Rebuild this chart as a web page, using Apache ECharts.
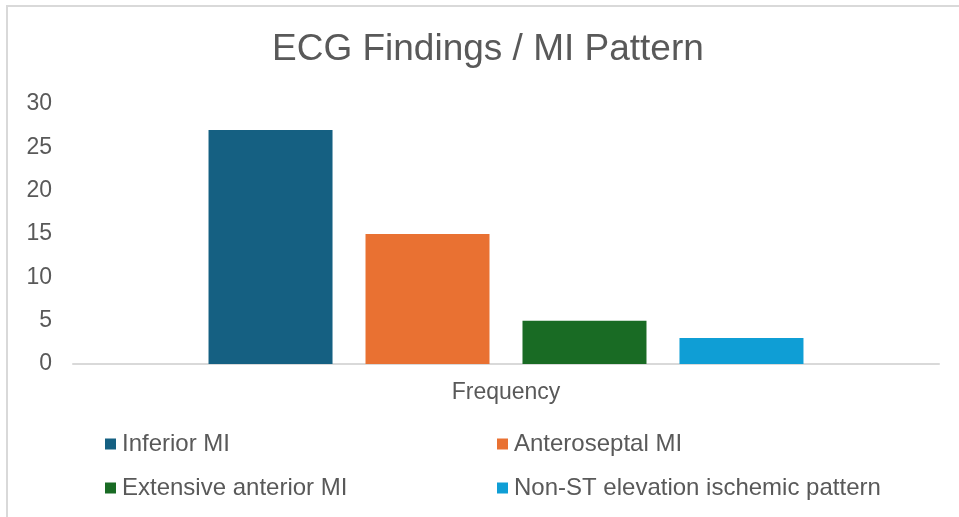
<!DOCTYPE html>
<html>
<head>
<meta charset="utf-8">
<title>ECG Findings / MI Pattern</title>
<script src="https://cdn.jsdelivr.net/npm/echarts@6/dist/echarts.min.js"></script>
<style>
  html, body { margin: 0; padding: 0; background: #fff; }
  #chart { width: 959px; height: 517px; }
</style>
</head>
<body>
<div id="chart"></div>
<script>
const categories = ['Frequency']
const seriesNames = ['Inferior MI', 'Anteroseptal MI', 'Extensive anterior MI', 'Non-ST elevation ischemic pattern']
const seriesValues = [27, 15, 5, 3]
const seriesColors = ['#156082', '#E97132', '#196B24', '#0F9ED5']
const yTicks = [0, 5, 10, 15, 20, 25, 30]

const textColor = '#595959'
const fontFamily = 'Liberation Sans, Arial, sans-serif'

// legend laid out as 2 x 2, one legend per entry
const legendSpots = [
	{ left: 105, top: 432 },
	{ left: 497, top: 432 },
	{ left: 105, top: 476 },
	{ left: 497, top: 476 }
]

const chart = echarts.init(document.getElementById('chart'))

chart.setOption({
	animation: false,
	textStyle: { fontFamily: fontFamily },
	graphic: [{
		type: 'rect',
		shape: { x: 7, y: 6, width: 1000, height: 600 },
		style: { fill: 'none', stroke: '#d9d9d9', lineWidth: 2 },
		silent: true
	}],
	title: {
		text: 'ECG Findings / MI Pattern',
		left: 272,
		top: 31,
		padding: 0,
		textStyle: {
			color: textColor,
			fontSize: 37,
			fontWeight: 'normal',
			fontFamily: fontFamily
		}
	},
	legend: seriesNames.map((name, i) => ({
		data: [name],
		left: legendSpots[i].left,
		top: legendSpots[i].top,
		padding: 0,
		itemWidth: 11,
		itemHeight: 11,
		icon: 'rect',
		textStyle: {
			color: textColor,
			fontSize: 24,
			lineHeight: 24,
			fontFamily: fontFamily,
			padding: [0, 0, 0, 1]
		}
	})),
	grid: {
		left: 73,
		right: 20,
		top: 104,
		bottom: 153,
		containLabel: false
	},
	xAxis: {
		type: 'category',
		data: categories,
		axisLine: { lineStyle: { color: '#d9d9d9', width: 2 } },
		axisTick: { show: false },
		axisLabel: {
			color: textColor,
			fontSize: 23,
			margin: 17,
			fontFamily: fontFamily
		}
	},
	yAxis: {
		type: 'value',
		min: yTicks[0],
		max: yTicks[yTicks.length - 1],
		interval: 5,
		splitLine: { show: false },
		axisLine: { show: false },
		axisTick: { show: false },
		axisLabel: {
			color: textColor,
			fontSize: 23,
			margin: 21,
			fontFamily: fontFamily
		}
	},
	series: seriesNames.map((name, i) => ({
		name: name,
		type: 'bar',
		data: [seriesValues[i]],
		barWidth: 124,
		barGap: '26.6%',
		itemStyle: { color: seriesColors[i] }
	}))
})
</script>
</body>
</html>
